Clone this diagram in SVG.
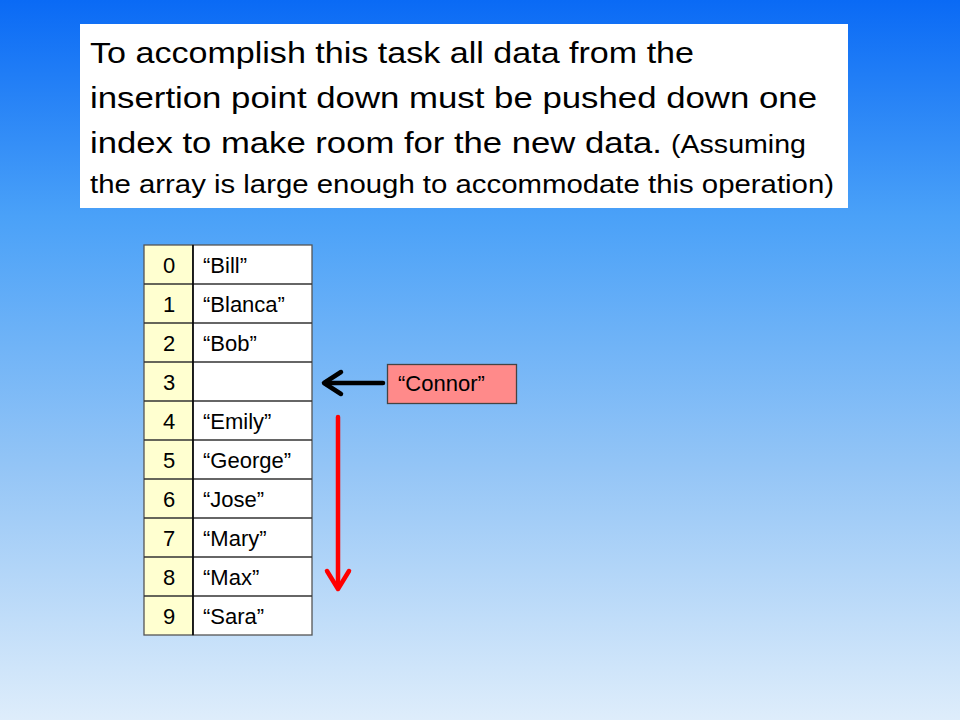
<svg xmlns="http://www.w3.org/2000/svg" width="960" height="720" viewBox="0 0 960 720">
<defs>
<linearGradient id="bg" x1="0" y1="0" x2="0" y2="1">
<stop offset="0" stop-color="#0a6af5"/>
<stop offset="0.3" stop-color="#4aa1f8"/>
<stop offset="0.65" stop-color="#94c5f6"/>
<stop offset="1" stop-color="#deedfb"/>
</linearGradient>
<style>
.t{font-family:"Liberation Sans",Arial,sans-serif;fill:#000}
.big{font-size:30px}
.sm{font-size:26px}
.cell{font-size:22px}
.nm{font-size:22px}
.idx{fill:#ffffd0;stroke:#555;stroke-width:1.3}
.val{fill:#fff;stroke:#555;stroke-width:1.3}
</style>
</defs>
<rect width="960" height="720" fill="url(#bg)"/>
<g id="caption">
<rect x="80" y="24" width="768" height="184" fill="#fff"/>
<text class="t big" x="90" y="63" textLength="604" lengthAdjust="spacingAndGlyphs">To accomplish this task all data from the</text>
<text class="t big" x="90" y="108" textLength="727" lengthAdjust="spacingAndGlyphs">insertion point down must be pushed down one</text>
<text class="t" x="90" y="153"><tspan class="big" textLength="572" lengthAdjust="spacingAndGlyphs">index to make room for the new data.</tspan><tspan class="sm" x="671" textLength="135" lengthAdjust="spacingAndGlyphs">(Assuming</tspan></text>
<text class="t sm" x="90" y="193" textLength="744" lengthAdjust="spacingAndGlyphs">the array is large enough to accommodate this operation)</text>
</g>
<g id="array">
<rect class="idx" x="144" y="245" width="49" height="390"/>
<rect class="val" x="193" y="245" width="119" height="390"/>
<g stroke="#333" stroke-width="1.3">
<line x1="144" y1="284" x2="312" y2="284"/>
<line x1="144" y1="323" x2="312" y2="323"/>
<line x1="144" y1="362" x2="312" y2="362"/>
<line x1="144" y1="401" x2="312" y2="401"/>
<line x1="144" y1="440" x2="312" y2="440"/>
<line x1="144" y1="479" x2="312" y2="479"/>
<line x1="144" y1="518" x2="312" y2="518"/>
<line x1="144" y1="557" x2="312" y2="557"/>
<line x1="144" y1="596" x2="312" y2="596"/>
</g>
<line x1="193" y1="245" x2="193" y2="635" stroke="#000" stroke-width="1.5"/>
<g class="t cell" text-anchor="middle">
<text x="169" y="273">0</text>
<text x="169" y="312">1</text>
<text x="169" y="351">2</text>
<text x="169" y="390">3</text>
<text x="169" y="429">4</text>
<text x="169" y="468">5</text>
<text x="169" y="507">6</text>
<text x="169" y="546">7</text>
<text x="169" y="585">8</text>
<text x="169" y="624">9</text>
</g>
<g class="t nm">
<text x="203" y="273">“Bill”</text>
<text x="203" y="312">“Blanca”</text>
<text x="203" y="351">“Bob”</text>
<text x="203" y="429">“Emily”</text>
<text x="203" y="468">“George”</text>
<text x="203" y="507">“Jose”</text>
<text x="203" y="546">“Mary”</text>
<text x="203" y="585">“Max”</text>
<text x="203" y="624">“Sara”</text>
</g>
</g>
<g id="connor">
<rect x="387.5" y="364.5" width="129" height="39" fill="#ff8a8a" stroke="#444" stroke-width="1.3"/>
<text class="t nm" x="398" y="391">“Connor”</text>
</g>
<g id="connectors" fill="none" stroke-linecap="round" stroke-linejoin="round">
<line x1="383" y1="383" x2="325" y2="383" stroke="#000" stroke-width="4.5"/>
<polyline points="341,372 324,383 341,394" stroke="#000" stroke-width="4.5"/>
<line x1="338" y1="417" x2="338" y2="586" stroke="#f00" stroke-width="4.5"/>
<polyline points="327,571 338,589 349,571" stroke="#f00" stroke-width="4.5"/>
</g>
</svg>
